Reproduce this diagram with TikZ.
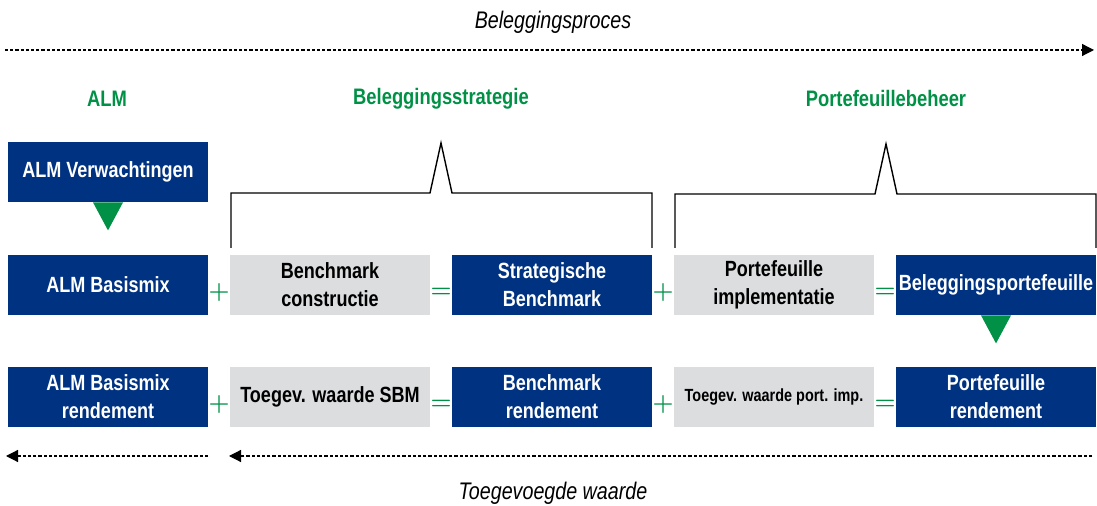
\documentclass[tikz,border=0pt]{standalone}
\usepackage{fontspec}
\setmainfont{Liberation Sans}[FakeStretch=0.82]
\usetikzlibrary{arrows.meta}
\definecolor{almblue}{RGB}{0,50,130}
\definecolor{almgray}{RGB}{220,221,223}
\definecolor{almgreen}{RGB}{0,145,70}
\tikzset{
  bluebox/.style={fill=almblue, text=white, minimum width=100pt, minimum height=30pt,
    inner sep=0pt, align=center, font=\bfseries\fontsize{11}{14}\selectfont},
  graybox/.style={bluebox, fill=almgray, text=black},
  opsign/.style={text=almgreen, font=\boldmath\fontsize{12}{12}\selectfont},
  phase/.style={text=almgreen, font=\bfseries\fontsize{11.2}{13}\selectfont},
  caption/.style={font=\itshape\fontsize{12}{14}\selectfont},
  flowline/.style={line width=0.6pt, dash pattern=on 1.6pt off 1pt},
  pointer/.style={fill=almgreen, draw=none},
}
\begin{document}
\begin{tikzpicture}[x=0.5pt, y=-0.5pt]
  \useasboundingbox (0,0) rectangle (1097,506);

  % Process arrow on top
  \node[caption] (proces) at (553,22) {Beleggingsproces};
  \coordinate (pstart) at (5,50);
  \coordinate (pend) at (1094,50);
  \draw[flowline, -{Triangle[length=6pt, width=6pt]}] (pstart) -- (pend);

  % Phases
  \node[phase] (almhead) at (107,99) {ALM};
  \node[phase] (strathead) at (441,99) {Beleggingsstrategie};
  \node[phase] (porthead) at (886,99) {Portefeuillebeheer};

  % Expectations
  \node[bluebox] (verw) at (108,172) {ALM Verwachtingen};
  \fill[pointer] (verw.south) ++(-15,0) -- ++(30,0) -- ++(-15,28) -- cycle;

  % Brackets
  \draw[line width=0.7pt] (231,248) -- (231,193) -- (430,193) -- (441,143)
    -- (452,193) -- (652,193) -- (652,248);
  \draw[line width=0.7pt] (675,248) -- (675,194) -- (875,194) -- (886,144)
    -- (897,194) -- (1096,194) -- (1096,248);

  % Portfolio row
  \node[bluebox] (basis) at (108,285) {ALM Basismix};
  \node[opsign] (plusa) at (219,293) {$+$};
  \node[graybox] (constr) at (330,285) {Benchmark\\constructie};
  \node[opsign] (isa) at (441,293) {$=$};
  \node[bluebox] (sbm) at (552,285) {Strategische\\Benchmark};
  \node[opsign] (plusb) at (663,293) {$+$};
  \node[graybox] (impl) at (774,285) {Portefeuille\\implementatie};
  \node[opsign] (isb) at (885,293) {$=$};
  \node[bluebox] (bport) at (996,285) {Beleggingsportefeuille};
  \fill[pointer] (bport.south) ++(-15,0) -- ++(30,0) -- ++(-15,28) -- cycle;

  % Return row
  \node[bluebox] (basisrend) at (108,397) {ALM Basismix\\rendement};
  \node[opsign] (plusc) at (219,405) {$+$};
  \node[graybox] (sbmval) at (330,397) {Toegev. waarde SBM};
  \node[opsign] (isc) at (441,405) {$=$};
  \node[bluebox] (bmrend) at (552,397) {Benchmark\\rendement};
  \node[opsign] (plusd) at (663,405) {$+$};
  \node[graybox, font=\bfseries\fontsize{8.8}{10}\selectfont] (implval) at (774,397) {Toegev. waarde port. imp.};
  \node[opsign] (isd) at (885,405) {$=$};
  \node[bluebox] (portrend) at (996,397) {Portefeuille\\rendement};

  % Added value arrows
  \coordinate (astart) at (208,456);
  \coordinate (aend) at (6,456);
  \coordinate (bstart) at (1092,456);
  \coordinate (bend) at (229,456);
  \draw[flowline, -{Triangle[length=6pt, width=6pt]}] (astart) -- (aend);
  \draw[flowline, -{Triangle[length=6pt, width=6pt]}] (bstart) -- (bend);
  \node[caption] (waarde) at (553,493) {Toegevoegde waarde};
\end{tikzpicture}
\end{document}
